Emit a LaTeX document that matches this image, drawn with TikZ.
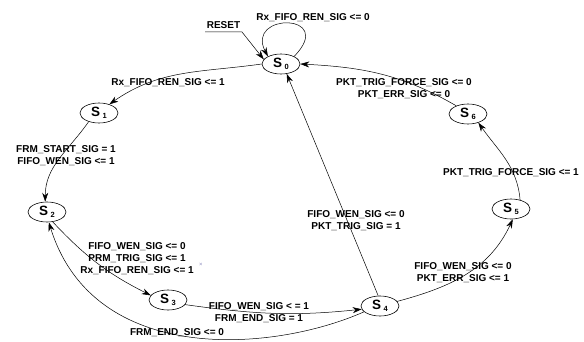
\documentclass[tikz,border=0pt]{standalone}
\usepackage{fontspec}
\setmainfont{Liberation Sans}
\usepackage{tikz}
\usetikzlibrary{shapes.geometric,arrows.meta}
\definecolor{markgray}{RGB}{140,140,190}
\tikzstyle{state} = [ellipse, draw, line width=0.6pt, minimum width=38pt,
                     minimum height=20pt, inner sep=0pt]
\tikzstyle{sig} = [align=center, inner sep=0pt,
                   font=\bfseries\fontsize{10}{12}\selectfont]
\tikzstyle{arrow} = [-{Stealth[length=9pt,width=6pt]}, line width=0.5pt]
\newcommand{\stname}[1]{{\fontsize{13.5}{13.5}\selectfont\bfseries S}\hspace{2.5pt}%
  \raisebox{-1.5pt}{\fontsize{7.5}{7.5}\selectfont\bfseries #1}}

\begin{document}
\begin{tikzpicture}[x=1pt,y=1pt]
    \useasboundingbox (0,0) rectangle (584,341);
    % states
    \node [state] (s0) at (281,277) {\stname{0}};
    \node [state] (s1) at (99,228) {\stname{1}};
    \node [state] (s2) at (47,129) {\stname{2}};
    \node [state] (s3) at (168,41) {\stname{3}};
    \node [state] (s4) at (380,35) {\stname{4}};
    \node [state] (s5) at (511,132) {\stname{5}};
    \node [state] (s6) at (468,227) {\stname{6}};

    % transition conditions
    \node [sig] (l00) at (313,323) {Rx\_FIFO\_REN\_SIG <= 0};
    \node [sig] (l01) at (168,258) {Rx\_FIFO\_REN\_SIG <= 1};
    \node [sig] (l12) at (66,185) {FRM\_START\_SIG = 1\\FIFO\_WEN\_SIG <= 1};
    \node [sig] (l23) at (137,82) {FIFO\_WEN\_SIG <= 0\\PRM\_TRIG\_SIG <= 1\\Rx\_FIFO\_REN\_SIG <= 1};
    \node [sig] (l34) at (259,28) {FIFO\_WEN\_SIG < = 1\\FRM\_END\_SIG = 1};
    \node [sig] (l42) at (177,8) {FRM\_END\_SIG <= 0};
    \node [sig] (l40) at (356,120) {FIFO\_WEN\_SIG <= 0\\PKT\_TRIG\_SIG = 1};
    \node [sig] (l45) at (463,68) {FIFO\_WEN\_SIG <= 0\\PKT\_ERR\_SIG <= 1};
    \node [sig] (l56) at (511,168) {PKT\_TRIG\_FORCE\_SIG <= 1};
    \node [sig] (l60) at (404,252) {PKT\_TRIG\_FORCE\_SIG <= 0\\PKT\_ERR\_SIG <= 0};
    \node [text=markgray, font=\fontsize{6}{6}\selectfont] (xmark) at (201,76) {×};

    % reset
    \coordinate (rst) at (205,309);
    \draw [arrow] (rst) -- node[sig, above=3pt] (lrst) {RESET} ++(37,0) -- (s0.165);

    % transitions
    \draw [arrow] (s0.30) .. controls +(43,44) and +(-23,44) .. (s0.150);
    \draw [arrow] (s0.west) to[out=188,in=35] (s1.40);
    \draw [arrow] (s1.220) to[out=235,in=90] (s2.100);
    \draw [arrow] (s2.-60) to[bend right=10] (s3.165);
    \draw [arrow] (s3.-15) to[out=-8,in=186] (s4.190);
    \draw [arrow] (s4.200) .. controls +(-90,-40) and +(45,-145) .. (s2.-80);
    \draw [arrow] (s4.100) -- (s0.-60);
    \draw [arrow] (s4.15) to[out=15,in=-115] (s5.-80);
    \draw [arrow] (s5.45) to[out=95,in=-55] (s6.-40);
    \draw [arrow] (s6.145) to[out=150,in=-3] (s0.east);
\end{tikzpicture}
\end{document}
